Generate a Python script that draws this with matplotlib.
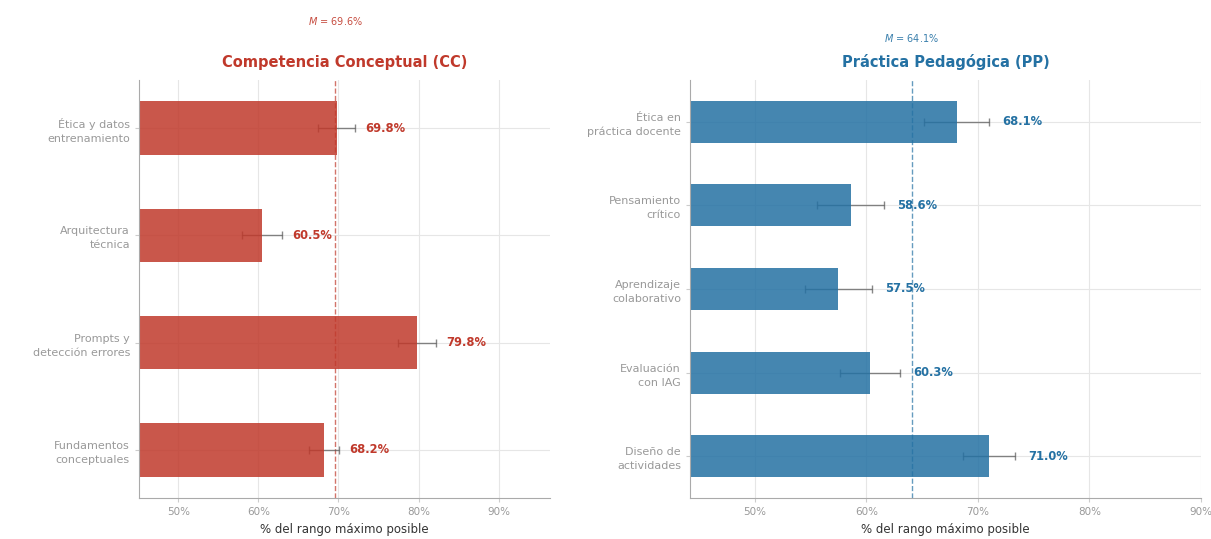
import numpy as np
import matplotlib.pyplot as plt
from matplotlib.ticker import FuncFormatter

# Competencia Conceptual (bottom -> top)
cc_labels = ["Fundamentos\nconceptuales", "Prompts y\ndetección errores",
             "Arquitectura\ntécnica", "Ética y datos\nentrenamiento"]
cc_values = [68.2, 79.8, 60.5, 69.8]
cc_err = [1.9, 2.4, 2.5, 2.3]
cc_mean = 69.6

# Práctica Pedagógica (bottom -> top)
pp_labels = ["Diseño de\nactividades", "Evaluación\ncon IAG", "Aprendizaje\ncolaborativo",
             "Pensamiento\ncrítico", "Ética en\npráctica docente"]
pp_values = [71.0, 60.3, 57.5, 58.6, 68.1]
pp_err = [2.3, 2.7, 3.0, 3.0, 2.9]
pp_mean = 64.1

fig = plt.figure(figsize=(12.11, 5.39), dpi=100)
W, H = 1211, 539
ax1 = fig.add_axes([139 / W, 41 / H, 411 / W, 418 / H])
ax2 = fig.add_axes([690 / W, 41 / H, 511 / W, 418 / H])


def panel(ax, labels, values, err, mean, color, title, xlim, pad):
    n = len(labels)
    y = np.arange(n)
    # error bars sit under the semi-transparent bars
    ax.errorbar(values, y, xerr=err, fmt="none", ecolor="#555555", elinewidth=1,
                capsize=3, capthick=1, alpha=0.7, zorder=1.5)
    ax.barh(y, values, height=0.5, color=color, alpha=0.85, zorder=2)
    for yi, v, e in zip(y, values, err):
        ax.text(v + e + 1.2, yi, f"{v:.1f}%", va="center", ha="left",
                fontsize=8.3, fontweight="bold", color=color, zorder=4)
    ax.axvline(mean, color=color, ls="--", lw=1, alpha=0.7, zorder=1)
    ax.text(mean, n, f"$M$ = {mean:.1f}%", ha="center", va="center",
            fontsize=7, color=color, alpha=0.9, clip_on=False)
    ax.set_yticks(y)
    ax.set_yticklabels(labels, fontsize=8, color="#999999", linespacing=1.5)
    ax.set_xlim(*xlim)
    ax.set_ylim(-pad, n - 1 + pad)
    ax.set_xticks([50, 60, 70, 80, 90])
    ax.xaxis.set_major_formatter(FuncFormatter(lambda x, _: f"{x:.0f}%"))
    ax.tick_params(axis="x", labelsize=7.5, labelcolor="#999999", color="#cccccc", length=3)
    ax.tick_params(axis="y", color="#cccccc", length=3)
    ax.set_xlabel("% del rango máximo posible", fontsize=8.5, color="#333333")
    ax.set_title(title, fontsize=10.5, fontweight="bold", color=color, pad=9)
    ax.grid(True, color="#e6e6e6", lw=0.8, zorder=0)
    ax.set_axisbelow(True)
    for s in ["top", "right"]:
        ax.spines[s].set_visible(False)
    for s in ["left", "bottom"]:
        ax.spines[s].set_color("#aaaaaa")
        ax.spines[s].set_linewidth(0.8)


panel(ax1, cc_labels, cc_values, cc_err, cc_mean, "#C0392B",
      "Competencia Conceptual (CC)", (45.1, 96.4), 0.45)
panel(ax2, pp_labels, pp_values, pp_err, pp_mean, "#2471A3",
      "Práctica Pedagógica (PP)", (44.2, 90.0), 0.5)

fig.savefig("out.png", dpi=100)
